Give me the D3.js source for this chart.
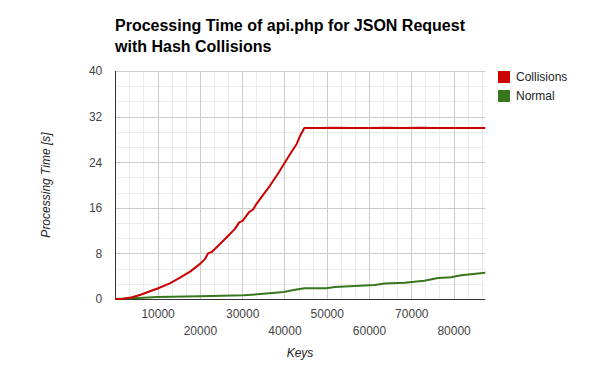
<!DOCTYPE html>
<html>
<head>
<meta charset="utf-8">
<script src="https://cdn.jsdelivr.net/npm/d3@7"></script>
<style>
  body { margin: 0; background: #fff; }
  text { font-family: Arial, "Liberation Sans", sans-serif; }
</style>
</head>
<body>
<svg id="chart" width="600" height="371"></svg>
<script>
// Data
var collisionKeys = [0, 2000, 4000, 6000, 8200, 10000, 12900, 15000, 17700, 20100, 21200, 22000, 22800, 24700, 26700, 28300, 29300, 30100, 31700, 32600, 33400, 35000, 36600, 38300, 40000, 41500, 42900, 43700, 44700, 48000, 52000, 56000, 60000, 64000, 68000, 72000, 76000, 80000, 84000, 87500];
var collisionTimes = [0, 0.05, 0.3, 0.75, 1.35, 1.85, 2.75, 3.6, 4.8, 6.2, 7.0, 8.05, 8.25, 9.6, 11.1, 12.3, 13.45, 13.7, 15.3, 15.7, 16.7, 18.3, 19.9, 21.8, 23.8, 25.6, 27.2, 28.6, 30.0, 30.0, 30.05, 30.0, 30.0, 30.05, 30.0, 30.05, 30.0, 30.0, 30.0, 30.0];

var normalKeys = [0, 6600, 9900, 20100, 30300, 35000, 39800, 42500, 44700, 49900, 51900, 56600, 61300, 63700, 68400, 73100, 76300, 79400, 81800, 87500];
var normalTimes = [0, 0.23, 0.35, 0.47, 0.65, 0.9, 1.23, 1.63, 1.88, 1.88, 2.1, 2.28, 2.46, 2.7, 2.86, 3.2, 3.68, 3.8, 4.15, 4.6];

var xTicks = [10000, 20000, 30000, 40000, 50000, 60000, 70000, 80000];
var yTicks = [0, 8, 16, 24, 32, 40];

var seriesNames = ['Collisions', 'Normal'];
var seriesColors = ['#cc0000', '#38761d'];

var svg = d3.select('#chart');
svg.append('rect').attr('width', 600).attr('height', 371).attr('fill', '#fff');

var plot = { l: 115.3, r: 485.3, t: 71, b: 299 };

var x = d3.scaleLinear().domain([0, 87500]).range([plot.l, plot.r]);
var y = d3.scaleLinear().domain([0, 40]).range([plot.b, plot.t]);

// minor gridlines (Google style: 3 per major step)
var xMinor = d3.range(0, 87500, 10000 / 3);
var yMinor = d3.range(0, 40, 8 / 3);

var grid = svg.append('g');
grid.selectAll('.xminor').data(xMinor).enter().append('line')
    .attr('x1', d => Math.round(x(d)) + 0.5).attr('x2', d => Math.round(x(d)) + 0.5)
    .attr('y1', plot.t).attr('y2', plot.b)
    .attr('stroke', '#ebebeb');
grid.selectAll('.yminor').data(yMinor).enter().append('line')
    .attr('x1', plot.l).attr('x2', plot.r)
    .attr('y1', d => Math.round(y(d)) + 0.5).attr('y2', d => Math.round(y(d)) + 0.5)
    .attr('stroke', '#ebebeb');
grid.selectAll('.xmajor').data(xTicks).enter().append('line')
    .attr('x1', d => Math.round(x(d)) + 0.5).attr('x2', d => Math.round(x(d)) + 0.5)
    .attr('y1', plot.t).attr('y2', plot.b)
    .attr('stroke', '#cccccc');
grid.selectAll('.ymajor').data(yTicks.slice(1)).enter().append('line')
    .attr('x1', plot.l).attr('x2', plot.r)
    .attr('y1', d => Math.round(y(d)) + 0.5).attr('y2', d => Math.round(y(d)) + 0.5)
    .attr('stroke', '#cccccc');

// baselines
svg.append('line')
    .attr('x1', plot.l).attr('x2', plot.r)
    .attr('y1', Math.round(y(0)) + 0.5).attr('y2', Math.round(y(0)) + 0.5)
    .attr('stroke', '#333');
svg.append('line')
    .attr('x1', Math.round(plot.l) + 0.5).attr('x2', Math.round(plot.l) + 0.5)
    .attr('y1', plot.t).attr('y2', plot.b + 1)
    .attr('stroke', '#333');

// y axis labels
var yAxis = d3.axisLeft(y).tickValues(yTicks).tickSize(0).tickPadding(13);
var gy = svg.append('g').attr('transform', 'translate(' + plot.l + ',0)').call(yAxis);
gy.select('.domain').remove();
gy.selectAll('text').attr('font-size', 12).attr('fill', '#444').attr('font-family', 'Arial, "Liberation Sans", sans-serif');

// x axis labels, staggered in two rows
var xAxis = d3.axisBottom(x).tickValues(xTicks).tickSize(0).tickFormat(d3.format('d'));
var gx = svg.append('g').attr('transform', 'translate(0,' + plot.b + ')').call(xAxis);
gx.select('.domain').remove();
gx.selectAll('text')
    .attr('font-size', 12).attr('fill', '#444').attr('font-family', 'Arial, "Liberation Sans", sans-serif')
    .attr('dy', null)
    .attr('y', (d, i) => i % 2 === 0 ? 19 : 36);

// lines
var line = d3.line().x(d => x(d[0])).y(d => y(d[1]));
var collisions = collisionKeys.map((k, i) => [k, collisionTimes[i]]);
var normal = normalKeys.map((k, i) => [k, normalTimes[i]]);

svg.append('path').datum(normal)
    .attr('d', line).attr('fill', 'none')
    .attr('stroke', seriesColors[1]).attr('stroke-width', 2).attr('stroke-linejoin', 'round');
svg.append('path').datum(collisions)
    .attr('d', line).attr('fill', 'none')
    .attr('stroke', seriesColors[0]).attr('stroke-width', 2).attr('stroke-linejoin', 'round');

// title
var title = svg.append('text').attr('x', 115).attr('y', 31)
    .attr('font-size', 16).attr('font-weight', 'bold').attr('fill', '#000');
title.append('tspan').attr('x', 115).text('Processing Time of api.php for JSON Request');
title.append('tspan').attr('x', 115).attr('dy', 21).text('with Hash Collisions');

// axis titles
svg.append('text')
    .attr('x', 300).attr('y', 357)
    .attr('text-anchor', 'middle').attr('font-style', 'italic')
    .attr('font-size', 12).attr('fill', '#222')
    .text('Keys');
svg.append('text')
    .attr('transform', 'translate(50,185) rotate(-90)')
    .attr('text-anchor', 'middle').attr('font-style', 'italic')
    .attr('font-size', 12).attr('fill', '#222')
    .text('Processing Time [s]');

// legend
var legend = svg.append('g').selectAll('g').data(seriesNames).enter().append('g')
    .attr('transform', (d, i) => 'translate(498,' + (71 + i * 19) + ')');
legend.append('rect').attr('width', 12).attr('height', 12)
    .attr('fill', (d, i) => seriesColors[i]);
legend.append('text').attr('x', 18).attr('y', 10)
    .attr('font-size', 12).attr('fill', '#222')
    .text(d => d);
</script>
</body>
</html>
